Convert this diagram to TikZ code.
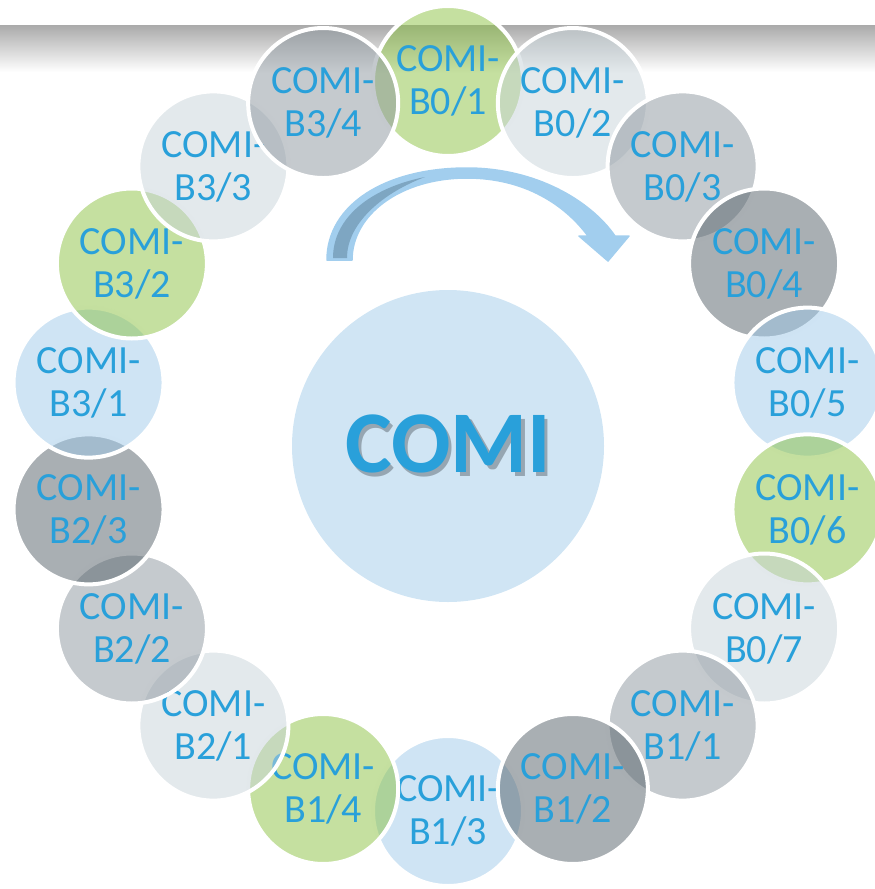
\documentclass[tikz,border=0pt]{standalone}
\usepackage{fontspec}
\setmainfont{Carlito}
\definecolor{txtblue}{RGB}{41,160,218}
\definecolor{cgreen}{RGB}{139,193,65}
\definecolor{cblue}{RGB}{159,201,233}
\definecolor{clgray}{RGB}{199,211,217}
\definecolor{cmgray}{RGB}{139,149,157}
\definecolor{cdgray}{RGB}{83,95,103}
\definecolor{centerfill}{RGB}{208,229,244}
\definecolor{shadowc}{RGB}{150,166,178}
\definecolor{arrowblue}{RGB}{162,206,238}
\definecolor{arrowdark}{RGB}{126,166,194}
\definecolor{bartop}{RGB}{170,170,170}
\newcommand{\shadowed}[1]{\makebox[0pt][l]{\kern3.5pt\raisebox{-3.5pt}{\textcolor{shadowc}{#1}}}#1}
\begin{document}
\begin{tikzpicture}[x=1pt,y=-1pt,
  ringnode/.style={circle, minimum size=150pt, inner sep=0pt, draw=white, line width=4pt,
    fill opacity=0.5, draw opacity=1, text opacity=1, text=txtblue, align=center,
    font=\fontsize{40}{43}\selectfont},
  corenode/.style={circle, minimum size=312pt, inner sep=0pt, fill=centerfill,
    text=txtblue, font=\bfseries\fontsize{88}{88}\selectfont},
  arrowbody/.style={fill=arrowblue, draw=arrowblue, line width=1.5pt, line join=round},
  arrowshade/.style={fill=arrowdark}
]
\useasboundingbox (0,0) rectangle (875,889);
\clip (0,0) rectangle (875,889);
% top band
\shade[top color=bartop, bottom color=white] (0,25) rectangle (875,72);

% ring of circles (drawing order matters)
\node[ringnode, fill=cgreen]  (b01) at ({448+365*cos(90)},{446-365*sin(90)})   {COMI-\\B0/1};
\node[ringnode, fill=cblue]   (b13) at ({448+365*cos(-90)},{446-365*sin(-90)}) {COMI-\\B1/3};
\node[ringnode, fill=clgray]  (b02) at ({448+365*cos(70)},{446-365*sin(70)})   {COMI-\\B0/2};
\node[ringnode, fill=cmgray]  (b03) at ({448+365*cos(50)},{446-365*sin(50)})   {COMI-\\B0/3};
\node[ringnode, fill=cdgray]  (b04) at ({448+365*cos(30)},{446-365*sin(30)})   {COMI-\\B0/4};
\node[ringnode, fill=cblue]   (b05) at ({448+365*cos(10)},{446-365*sin(10)})   {COMI-\\B0/5};
\node[ringnode, fill=cgreen]  (b06) at ({448+365*cos(-10)},{446-365*sin(-10)}) {COMI-\\B0/6};
\node[ringnode, fill=clgray]  (b07) at ({448+365*cos(-30)},{446-365*sin(-30)}) {COMI-\\B0/7};
\node[ringnode, fill=cmgray]  (b11) at ({448+365*cos(-50)},{446-365*sin(-50)}) {COMI-\\B1/1};
\node[ringnode, fill=cdgray]  (b12) at ({448+365*cos(-70)},{446-365*sin(-70)}) {COMI-\\B1/2};
\node[ringnode, fill=cgreen]  (b14) at ({448+365*cos(-110)},{446-365*sin(-110)}) {COMI-\\B1/4};
\node[ringnode, fill=clgray]  (b21) at ({448+365*cos(-130)},{446-365*sin(-130)}) {COMI-\\B2/1};
\node[ringnode, fill=cmgray]  (b22) at ({448+365*cos(-150)},{446-365*sin(-150)}) {COMI-\\B2/2};
\node[ringnode, fill=cdgray]  (b23) at ({448+365*cos(-170)},{446-365*sin(-170)}) {COMI-\\B2/3};
\node[ringnode, fill=cblue]   (b31) at ({448+365*cos(170)},{446-365*sin(170)}) {COMI-\\B3/1};
\node[ringnode, fill=cgreen]  (b32) at ({448+365*cos(150)},{446-365*sin(150)}) {COMI-\\B3/2};
\node[ringnode, fill=clgray]  (b33) at ({448+365*cos(130)},{446-365*sin(130)}) {COMI-\\B3/3};
\node[ringnode, fill=cmgray]  (b34) at ({448+365*cos(110)},{446-365*sin(110)}) {COMI-\\B3/4};

% centre circle
\node[corenode] (core) at (448,446) {\shadowed{COMI}};

% curved arrow
\path[arrowbody] (327,260) .. controls (327,205) and (385,168) .. (467,168)
  .. controls (535,168) and (590,200) .. (615,236) -- (629,236) -- (608,261)
  -- (579,236) -- (588,236) .. controls (565,205) and (525,178) .. (467,178)
  .. controls (400,178) and (352,215) .. (352,260) -- cycle;
\path[arrowshade] (333,258) .. controls (333,218) and (370,188) .. (425,177)
  .. controls (385,192) and (347,222) .. (347,258) -- cycle;
\end{tikzpicture}
\end{document}
